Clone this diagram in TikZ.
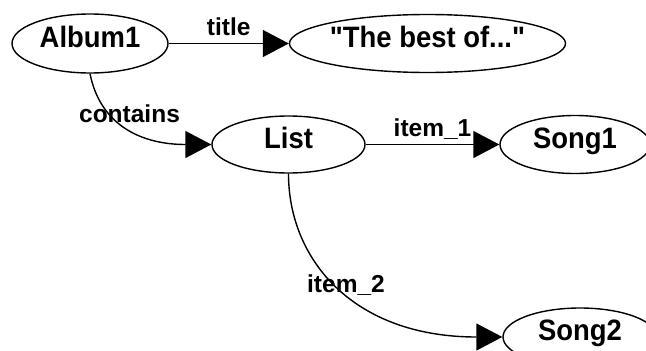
\documentclass[tikz,border=0pt]{standalone}
\usepackage{fontspec}
\setmainfont{Liberation Sans}
\newfontfamily\entfont{Liberation Sans}[FakeStretch=0.93]
\usetikzlibrary{shapes.geometric,arrows.meta}
\tikzset{
  ent/.style={ellipse, draw, line width=1.4pt, inner sep=0pt,
    font=\entfont\bfseries\fontsize{29.5}{32}\selectfont, text height=0.7em, text depth=0pt},
  rel/.style={line width=1.4pt, -{Triangle[length=26pt,width=27pt]}},
  lbl/.style={font=\bfseries\fontsize{24.5}{27}\selectfont, inner sep=0pt, anchor=base}
}
\begin{document}
\begin{tikzpicture}[x=1pt,y=-1pt]
\useasboundingbox (0,0) rectangle (646,351);
\clip (0,0) rectangle (646,351);
\node[ent, minimum width=156pt, minimum height=59pt] (album) at (90,43.5) {Album1};
\node[ent, minimum width=271pt, minimum height=58pt] (best) at (427.5,43.5) {\char34 The best of...\char34};
\node[ent, minimum width=153pt, minimum height=57pt] (list) at (288.5,144.5) {List};
\node[ent, minimum width=150pt, minimum height=58pt] (song1) at (575,144.5) {Song1};
\node[ent, minimum width=154pt, minimum height=58pt] (song2) at (580,337) {Song2};

\draw[rel] (album) -- node[lbl, midway, yshift=8.5pt] (ltitle) {title} (best);
\draw[rel] (list) -- node[lbl, midway, yshift=8.5pt] (litem1) {item\_1} (song1);
\draw[rel] (album.south) .. controls +(10,50) and +(-72,0) .. (list.west);
\draw[rel] (list.south) .. controls +(0,85) and +(-150,0) .. (song2.west);

\node[lbl] (lcontains) at (129.5,122) {contains};
\node[lbl] (litem2) at (346,292) {item\_2};
\end{tikzpicture}
\end{document}
